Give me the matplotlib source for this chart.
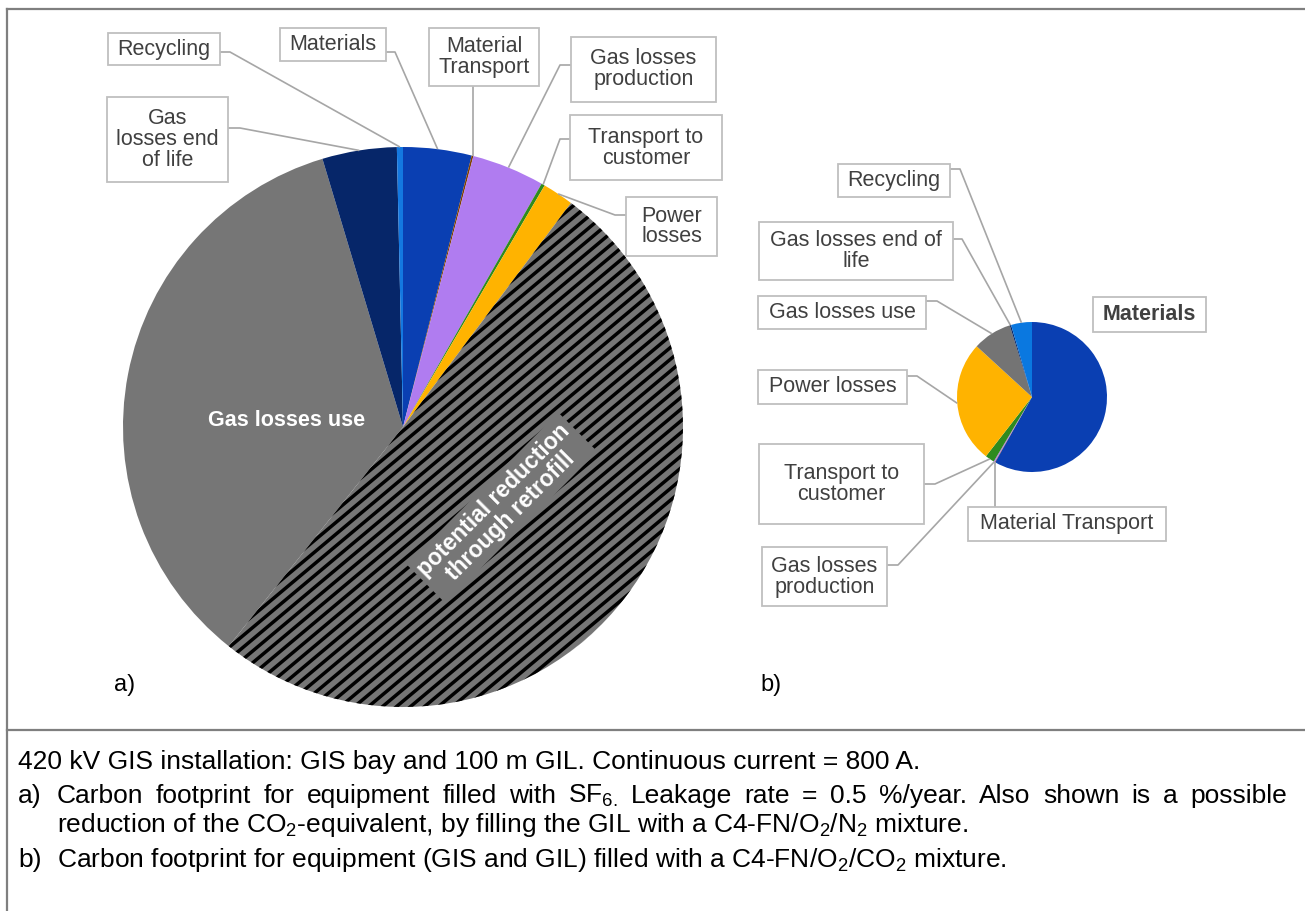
import matplotlib
matplotlib.use("Agg")
import matplotlib.pyplot as plt
import numpy as np

plt.rcParams["font.family"] = ["Liberation Sans", "DejaVu Sans"]
plt.rcParams["mathtext.fontset"] = "custom"
plt.rcParams["mathtext.rm"] = "Liberation Sans"
plt.rcParams["mathtext.it"] = "Liberation Sans:italic"

W, H = 1305, 911

# a) SF6-filled equipment, share of CO2-equivalent (%), clockwise from 12 o'clock
labels_a = ["Materials", "Material\nTransport", "Gas losses\nproduction", "Transport to\ncustomer",
            "Power\nlosses", "potential reduction\nthrough retrofill", "Gas losses use",
            "Gas\nlosses end\nof life", "Recycling"]
share_a = [3.95, 0.1, 4.2, 0.2, 1.8, 50.5, 34.7, 4.3, 0.35]
colors_a = ["#0a3fb2", "#7f3f00", "#b07cf0", "#2e8b1e", "#ffb300", "#767676", "#767676",
            "#062669", "#1478e0"]

# b) C4-FN/O2/CO2 mixture, share of CO2-equivalent (%)
labels_b = ["Materials", "Material Transport", "Gas losses\nproduction", "Transport to\ncustomer",
            "Power losses", "Gas losses use", "Gas losses end of\nlife", "Recycling"]
share_b = [58.2, 0.1, 0.25, 2.0, 26.3, 8.4, 0.3, 4.5]
colors_b = ["#0a3fb2", "#7f3f00", "#b07cf0", "#2e8b1e", "#ffb300", "#747474", "#062669", "#0a78e0"]

caption_1 = "420 kV GIS installation: GIS bay and 100 m GIL. Continuous current = 800 A."
caption_a1 = "Carbon footprint for equipment filled with SF$_{6.}$ Leakage rate = 0.5 %/year. Also shown is a possible"
caption_a2 = "reduction of the CO$_2$-equivalent, by filling the GIL with a C4-FN/O$_2$/N$_2$ mixture."
caption_b = "Carbon footprint for equipment (GIS and GIL) filled with a C4-FN/O$_2$/CO$_2$ mixture."

TXT = "#404040"
BOX_EC = "#bfbfbf"
LEAD = "#a6a6a6"
FS = 15.5

# label boxes (pixel x0, y0, x1, y1) and leader attachment (side, y or x, elbow)
boxes_a = {
    "Materials": ((280, 28, 386, 61), ("right", 52, 395)),
    "Material\nTransport": ((429, 28, 539, 86), ("bottom", None, None)),
    "Gas losses\nproduction": ((571, 37, 716, 102), ("left", 65, 560)),
    "Transport to\ncustomer": ((570, 115, 722, 180), ("left", 139, 560)),
    "Power\nlosses": ((626, 197, 717, 256), ("left", 215, 615)),
    "Gas\nlosses end\nof life": ((107, 97, 228, 182), ("right", 128, 240)),
    "Recycling": ((108, 33, 220, 65), ("right", 52, 230)),
}
boxes_b = {
    "Recycling": ((838, 164, 950, 197), ("right", 169, 960)),
    "Gas losses end of\nlife": ((759, 222, 953, 280), ("right", 239, 962)),
    "Gas losses use": ((758, 296, 926, 329), ("right", 301, 937)),
    "Power losses": ((758, 370, 907, 404), ("right", 376, 917)),
    "Transport to\ncustomer": ((759, 444, 924, 524), ("right", 484, 935)),
    "Material Transport": ((968, 507, 1166, 541), ("top", None, None)),
    "Gas losses\nproduction": ((762, 547, 887, 606), ("right", 565, 898)),
}


def py(y):
    return H - y


def draw_box(ax, label, box, bold=False):
    x0, y0, x1, y1 = box
    ax.add_patch(plt.Rectangle((x0, py(y1)), x1 - x0, y1 - y0, facecolor="white",
                               edgecolor=BOX_EC, linewidth=1.3, zorder=4))
    ax.text((x0 + x1) / 2, py((y0 + y1) / 2), label, ha="center", va="center",
            fontsize=FS, color=TXT, linespacing=1.0, zorder=5,
            fontweight="bold" if bold else "normal")


def edge_point(wedge):
    ang = np.deg2rad((wedge.theta1 + wedge.theta2) / 2)
    cx, cy = wedge.center
    return cx + wedge.r * np.cos(ang), cy + wedge.r * np.sin(ang)


def draw_labels(ax, wedges, labels, boxes):
    for w, lab in zip(wedges, labels):
        if lab not in boxes:
            continue
        box, (side, att, elbow) = boxes[lab]
        draw_box(ax, lab, box)
        ex, ey = edge_point(w)
        x0, y0, x1, y1 = box
        if side == "right":
            xs, ys = [x1, elbow, ex], [py(att), py(att), ey]
        elif side == "left":
            xs, ys = [x0, elbow, ex], [py(att), py(att), ey]
        elif side == "bottom":
            xs, ys = [ex, ex], [py(y1), ey]
        else:
            xs, ys = [ex, ex], [py(y0), ey]
        ax.plot(xs, ys, color=LEAD, lw=1.2, zorder=3, solid_capstyle="butt")


fig = plt.figure(figsize=(W / 100, H / 100), dpi=100)
ax = fig.add_axes([0, 0, 1, 1])

wedges_a, _ = ax.pie(share_a, colors=colors_a, center=(403, py(427)), radius=280,
                     startangle=90, counterclock=False, frame=True,
                     wedgeprops=dict(linewidth=0))
wedges_b, _ = ax.pie(share_b, colors=colors_b, center=(1032, py(397)), radius=75,
                     startangle=90, counterclock=False, frame=True,
                     wedgeprops=dict(linewidth=0))
ax.set_xlim(0, W)
ax.set_ylim(0, H)
ax.axis("off")

# diagonal stripes over the retrofill share
hatched = wedges_a[5]
cx, cy = hatched.center
ang = np.deg2rad(40)
d = np.array([np.cos(ang), np.sin(ang)])
n = np.array([-np.sin(ang), np.cos(ang)])
for off in np.arange(-300, 300, 9.0):
    p0 = np.array([cx, cy]) + off * n - 320 * d
    p1 = np.array([cx, cy]) + off * n + 320 * d
    ln, = ax.plot([p0[0], p1[0]], [p0[1], p1[1]], color="black", lw=2.5, zorder=2)
    ln.set_clip_path(hatched)

draw_labels(ax, wedges_a, labels_a, boxes_a)
draw_labels(ax, wedges_b, labels_b, boxes_b)
draw_box(ax, labels_b[0], (1093, 297, 1206, 332), bold=True)

ax.text(287, py(421), labels_a[6], ha="center", va="center", color="white",
        fontsize=FS, fontweight="bold", zorder=5)
ax.text(502, py(508), labels_a[5], ha="center", va="center", color="white",
        fontsize=16.5, fontweight="bold", rotation=45, rotation_mode="anchor",
        linespacing=1.0, zorder=5,
        bbox=dict(boxstyle="square,pad=0.2", facecolor="#767676", edgecolor="none"))

ax.text(125, py(685), "a)", ha="center", va="center", fontsize=17, color="black")
ax.text(771, py(685), "b)", ha="center", va="center", fontsize=17, color="black")

# panel frame
FRAME = "#7f7f7f"
ax.plot([7, 7], [py(9), 0], color=FRAME, lw=1.6, solid_capstyle="projecting")
ax.plot([7, W], [py(9), py(9)], color=FRAME, lw=1.6, solid_capstyle="projecting")
ax.plot([7, W], [py(730), py(730)], color=FRAME, lw=1.6)


def justified(ax, text, x0, x1, y, **kw):
    renderer = ax.figure.canvas.get_renderer()
    words = text.split(" ")
    items = [ax.text(x0, y, w, ha="left", va="center", **kw) for w in words]
    widths = [t.get_window_extent(renderer).width for t in items]
    gap = (x1 - x0 - sum(widths)) / (len(words) - 1)
    x = x0
    for t, w in zip(items, widths):
        t.set_x(x)
        x += w + gap


CFS = 19
ax.text(18, py(762), caption_1, ha="left", va="center", fontsize=CFS, color="black")
ax.text(18, py(796), "a)", ha="left", va="center", fontsize=CFS, color="black")
justified(ax, caption_a1, 57, 1287, py(796), fontsize=CFS, color="black")
ax.text(57, py(825), caption_a2, ha="left", va="center", fontsize=CFS, color="black")
ax.text(18, py(860), "b)", ha="left", va="center", fontsize=CFS, color="black")
ax.text(57, py(860), caption_b, ha="left", va="center", fontsize=CFS, color="black")

fig.savefig("out.png", dpi=100)
